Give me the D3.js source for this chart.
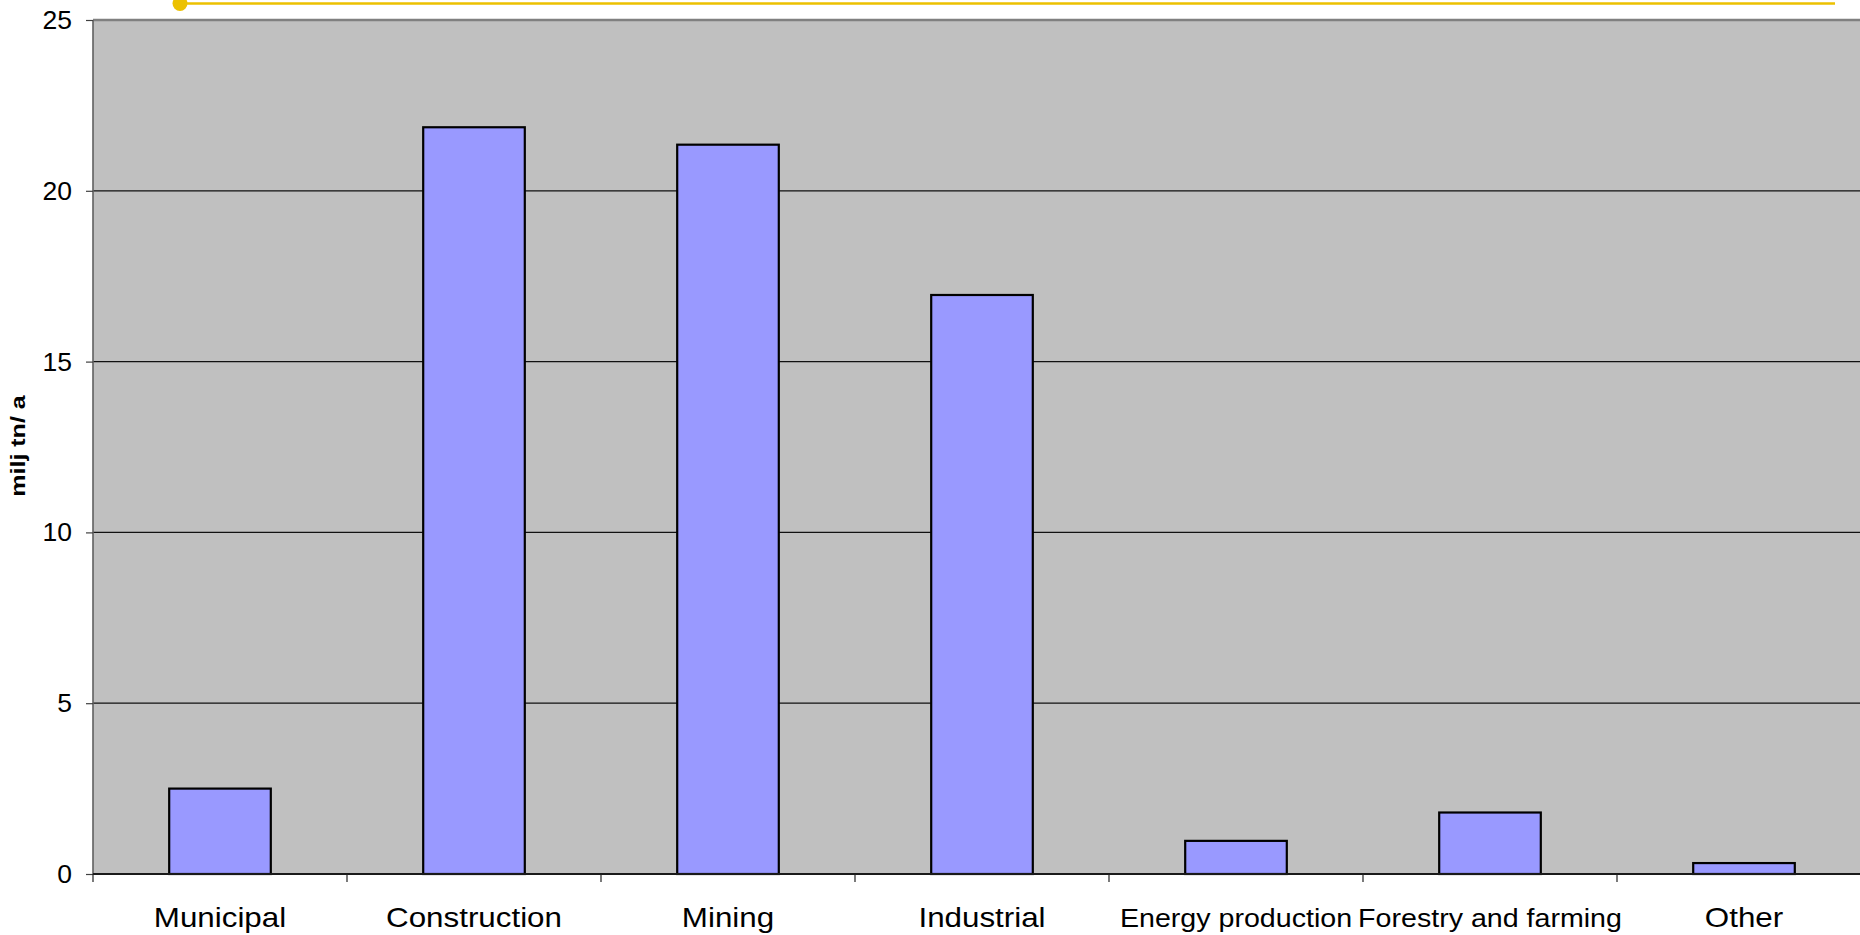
<!DOCTYPE html>
<html>
<head>
<meta charset="utf-8">
<script src="https://cdn.jsdelivr.net/npm/d3@7"></script>
<style>
  html, body { margin: 0; padding: 0; background: #fff; }
  svg { display: block; font-family: "Liberation Sans", Arial, sans-serif; }
</style>
</head>
<body>
<div id="chart"></div>
<script>
var categories = ['Municipal', 'Construction', 'Mining', 'Industrial', 'Energy production', 'Forestry and farming', 'Other'];
var values = [2.5, 21.86, 21.35, 16.95, 0.97, 1.8, 0.32];
var yTicks = [0, 5, 10, 15, 20, 25];
var yTitle = 'milj tn/ a';

var W = 1860, H = 935;
var m = { t: 20, l: 93, b: 874 };
var step = 254;

var svg = d3.select('#chart').append('svg').attr('width', W).attr('height', H);

var x = d3.scaleBand().domain(categories).range([m.l, m.l + step * categories.length]).paddingInner(0.6).paddingOuter(0.3);
var xb = d3.scaleBand().domain(categories).range([m.l, m.l + step * categories.length]).padding(0);
var y = d3.scaleLinear().domain([0, 25]).range([m.b, m.t]);

// plot area
svg.append('rect').attr('x', m.l).attr('y', m.t).attr('width', W - m.l + 20).attr('height', m.b - m.t).attr('fill', '#c0c0c0');

// gridlines
svg.append('g').selectAll('line').data(yTicks.filter(function (d) { return d > 0 && d < 25; })).join('line')
  .attr('x1', m.l).attr('x2', W).attr('y1', function (d) { return y(d); }).attr('y2', function (d) { return y(d); })
  .attr('stroke', '#111').attr('stroke-width', 1.2);
// top border
svg.append('line').attr('x1', m.l).attr('x2', W).attr('y1', y(25)).attr('y2', y(25)).attr('stroke', '#808080').attr('stroke-width', 2.4);

// bars
svg.append('g').selectAll('rect').data(values).join('rect')
  .attr('x', function (d, i) { return x(categories[i]); })
  .attr('y', function (d) { return y(d); })
  .attr('width', x.bandwidth())
  .attr('height', function (d) { return y(0) - y(d); })
  .attr('fill', '#9999ff').attr('stroke', '#000').attr('stroke-width', 2.2);

// y axis
var gy = svg.append('g').attr('transform', 'translate(' + m.l + ',0)')
  .call(d3.axisLeft(y).tickValues(yTicks).tickSize(7).tickPadding(14).tickFormat(d3.format('d')));
gy.select('.domain').attr('stroke', '#606060').attr('stroke-width', 1.6).attr('d', 'M0,' + m.t + 'V' + m.b);
gy.selectAll('.tick line').attr('stroke', '#404040').attr('stroke-width', 1.2);
gy.selectAll('.tick text').attr('font-size', 26.5).attr('fill', '#000').attr('font-family', '"Liberation Sans", Arial, sans-serif');

// x axis
var gx = svg.append('g').attr('transform', 'translate(0,' + m.b + ')');
gx.append('line').attr('x1', m.l).attr('x2', W).attr('stroke', '#1a1a1a').attr('stroke-width', 1.8);
gx.selectAll('line.tk').data(d3.range(categories.length + 1)).join('line').attr('class', 'tk')
  .attr('x1', function (i) { return m.l + i * xb.step(); }).attr('x2', function (i) { return m.l + i * xb.step(); })
  .attr('y1', 0).attr('y2', 8).attr('stroke', '#222').attr('stroke-width', 1.2);
gx.selectAll('text').data(categories).join('text')
  .attr('transform', function (d) { return 'translate(' + (xb(d) + xb.bandwidth() / 2) + ',53) scale(1.1,1)'; })
  .attr('text-anchor', 'middle').attr('fill', '#000')
  .attr('font-size', function (d) { return d.length > 12 ? 26 : 28.5; })
  .text(function (d) { return d; });

// y title
svg.append('text').attr('transform', 'translate(25,446) rotate(-90) scale(1.25,1)').attr('text-anchor', 'middle')
  .attr('font-weight', 'bold').attr('font-size', 20).attr('fill', '#000').text(yTitle);

// yellow marker line at the top
svg.append('line').attr('x1', 180).attr('x2', 1835).attr('y1', 3.5).attr('y2', 3.5).attr('stroke', '#ecc100').attr('stroke-width', 2.6);
svg.append('circle').attr('cx', 180).attr('cy', 3.5).attr('r', 7.5).attr('fill', '#ecc100');
</script>
</body>
</html>
